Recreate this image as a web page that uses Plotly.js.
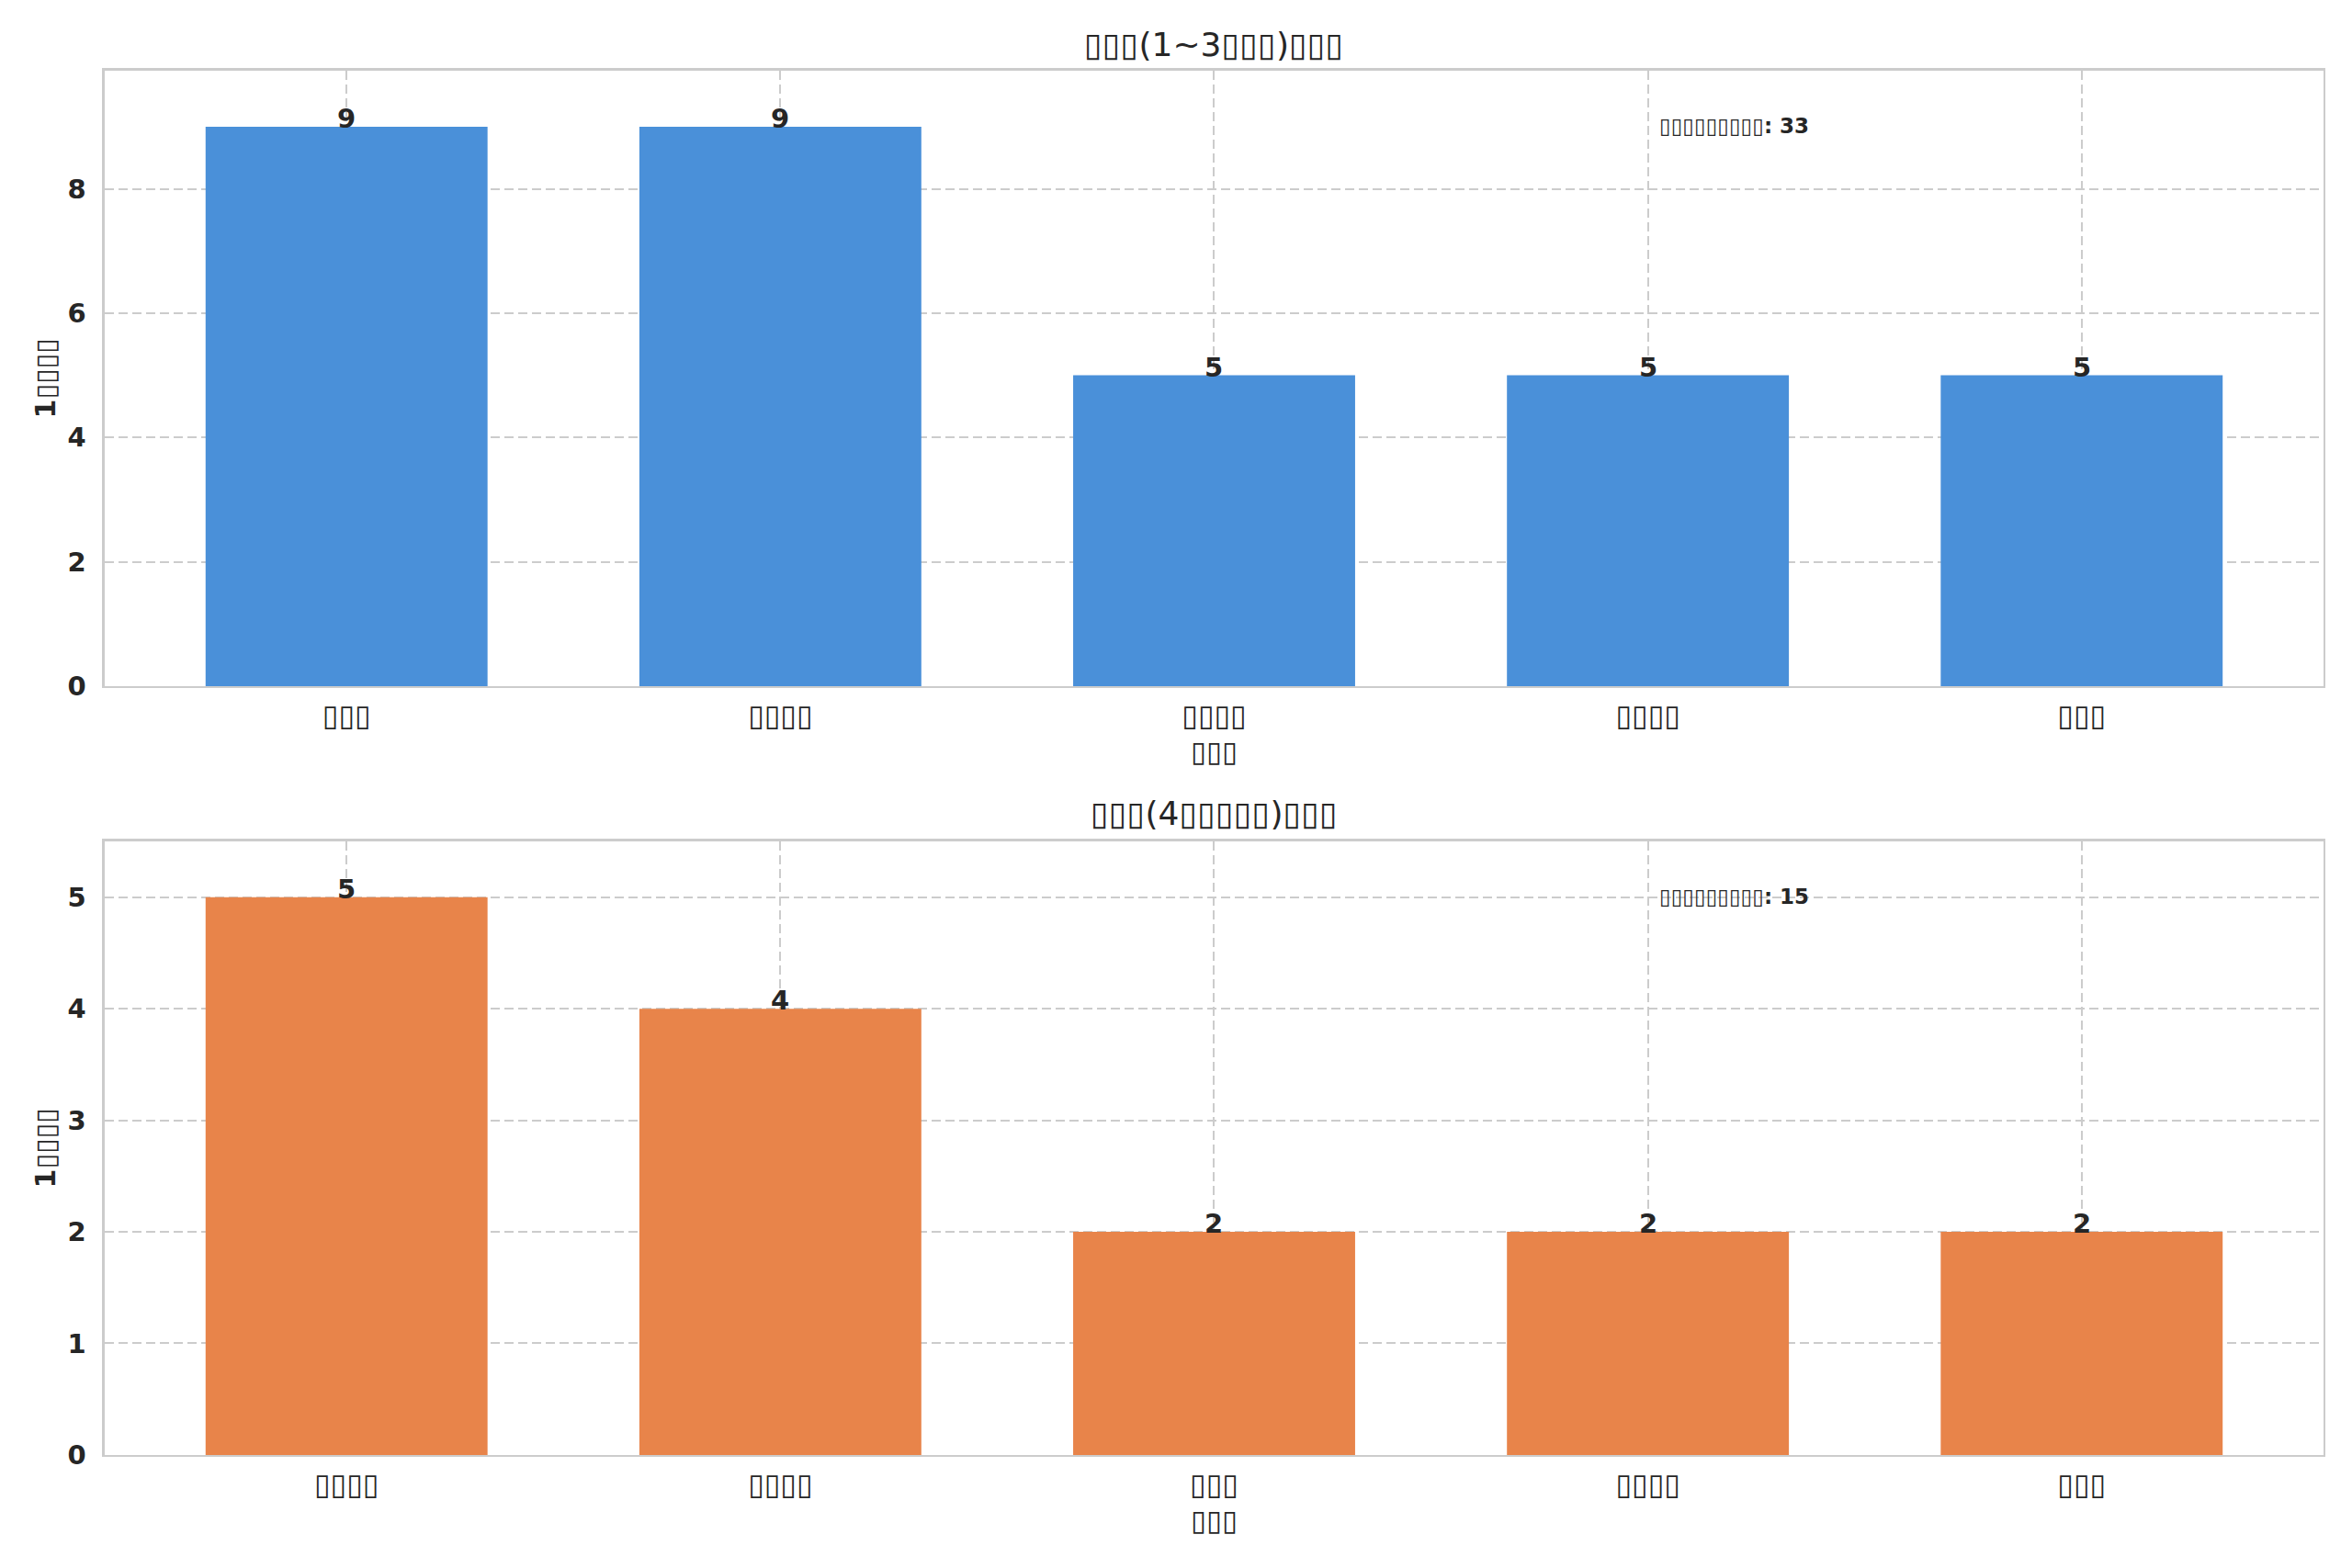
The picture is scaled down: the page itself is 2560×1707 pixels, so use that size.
<!DOCTYPE html>
<html>
<head>
<meta charset="utf-8">
<script src="https://cdn.plot.ly/plotly-3.0.1.min.js"></script>
<style>
  html, body { margin: 0; padding: 0; background: #ffffff; }
  #chart { width: 2560px; height: 1707px; }
</style>
</head>
<body>
<div id="chart"></div>
<script>
// Labels in the source picture are unrendered glyph boxes, kept as box characters
const BOX = '\u25AF';
const box = (n) => BOX.repeat(n);

// Top panel data
const topTitle = box(3) + '(1~3' + box(3) + ')' + box(3);
const topCategories = [box(3), box(4), box(4), box(4), box(3)];
const topValues = [9, 9, 5, 5, 5];

// Bottom panel data
const bottomTitle = box(3) + '(4' + box(5) + ')' + box(3);
const bottomCategories = [box(4), box(4), box(3), box(4), box(3)];
const bottomValues = [5, 4, 2, 2, 2];

// Shared axis texts
const xAxisLabel = box(3);
const yAxisLabel = '1' + box(4);
const totalLabel = box(9) + ': ';

const FONT = '"DejaVu Sans", "Liberation Sans", sans-serif';
const TEXT = '#262626';
const GRID = '#cccccc';

const positions = topCategories.map((_, i) => i);

const traces = [
  {
    x: positions, y: topValues, type: 'bar', width: 0.65,
    marker: {color: '#4a90d9'}, xaxis: 'x', yaxis: 'y',
    hoverinfo: 'skip', showlegend: false
  },
  {
    x: positions, y: bottomValues, type: 'bar', width: 0.65,
    marker: {color: '#e8844a'}, xaxis: 'x2', yaxis: 'y2',
    hoverinfo: 'skip', showlegend: false
  }
];

function xAxis(categories) {
  return {
    domain: [0.04453, 0.98789],
    range: [-0.5575, 4.5575],
    tickvals: positions,
    ticktext: categories,
    tickfont: {family: FONT, size: 32, color: TEXT},
    ticks: '', ticklabelstandoff: 2,
    showgrid: true, gridcolor: GRID, gridwidth: 2, griddash: '10px,5px',
    showline: true, linecolor: GRID, linewidth: 2.5, mirror: true,
    zeroline: false, fixedrange: true,
    title: {text: xAxisLabel, font: {family: FONT, size: 31, color: TEXT}, standoff: 11}
  };
}

function yAxis(maxValue, domain) {
  return {
    domain: domain,
    range: [0, maxValue * 1.1],
    dtick: maxValue > 6 ? 2 : 1,
    tickfont: {family: FONT, size: 29, color: TEXT, weight: 'bold'},
    ticks: '', ticklabelstandoff: 12,
    showgrid: true, gridcolor: GRID, gridwidth: 2, griddash: '10px,5px',
    showline: true, linecolor: GRID, linewidth: 2.5, mirror: true,
    zeroline: false, fixedrange: true,
    title: {text: yAxisLabel, font: {family: FONT, size: 30, color: TEXT, weight: 'bold'}, standoff: 4}
  };
}

// Value labels above bars and panel totals
const annotations = [];
function addPanel(values, xref, yref) {
  values.forEach((v, i) => {
    annotations.push({
      x: positions[i], y: v, xref: xref, yref: yref,
      text: String(v), showarrow: false,
      xanchor: 'center', yanchor: 'bottom', yshift: -10,
      font: {family: FONT, size: 29, color: TEXT, weight: 'bold'}
    });
  });
  const total = values.reduce((a, b) => a + b, 0);
  annotations.push({
    x: 0.7, y: 0.91, xref: xref + ' domain', yref: yref + ' domain',
    text: totalLabel + total, showarrow: false,
    xanchor: 'left', yanchor: 'middle',
    font: {family: FONT, size: 23, color: TEXT, weight: 'bold'}
  });
}
addPanel(topValues, 'x', 'y');
addPanel(bottomValues, 'x2', 'y2');

// Panel titles
[[topTitle, 0.9713], [bottomTitle, 0.4810]].forEach(([text, y]) => {
  annotations.push({
    x: 0.5162, y: y, xref: 'paper', yref: 'paper',
    text: text, showarrow: false, xanchor: 'center', yanchor: 'middle',
    font: {family: FONT, size: 36, color: TEXT}
  });
});

const layout = {
  width: 2560,
  height: 1707,
  margin: {l: 0, r: 0, t: 0, b: 0},
  paper_bgcolor: '#ffffff',
  plot_bgcolor: '#ffffff',
  font: {family: FONT, color: TEXT},
  showlegend: false,
  xaxis: Object.assign(xAxis(topCategories), {anchor: 'y'}),
  yaxis: Object.assign(yAxis(Math.max(...topValues), [0.5624, 0.9549]), {anchor: 'x'}),
  xaxis2: Object.assign(xAxis(bottomCategories), {anchor: 'y2'}),
  yaxis2: Object.assign(yAxis(Math.max(...bottomValues), [0.0721, 0.4634]), {anchor: 'x2'}),
  annotations: annotations
};

Plotly.newPlot('chart', traces, layout, {displayModeBar: false, staticPlot: true});
</script>
</body>
</html>
